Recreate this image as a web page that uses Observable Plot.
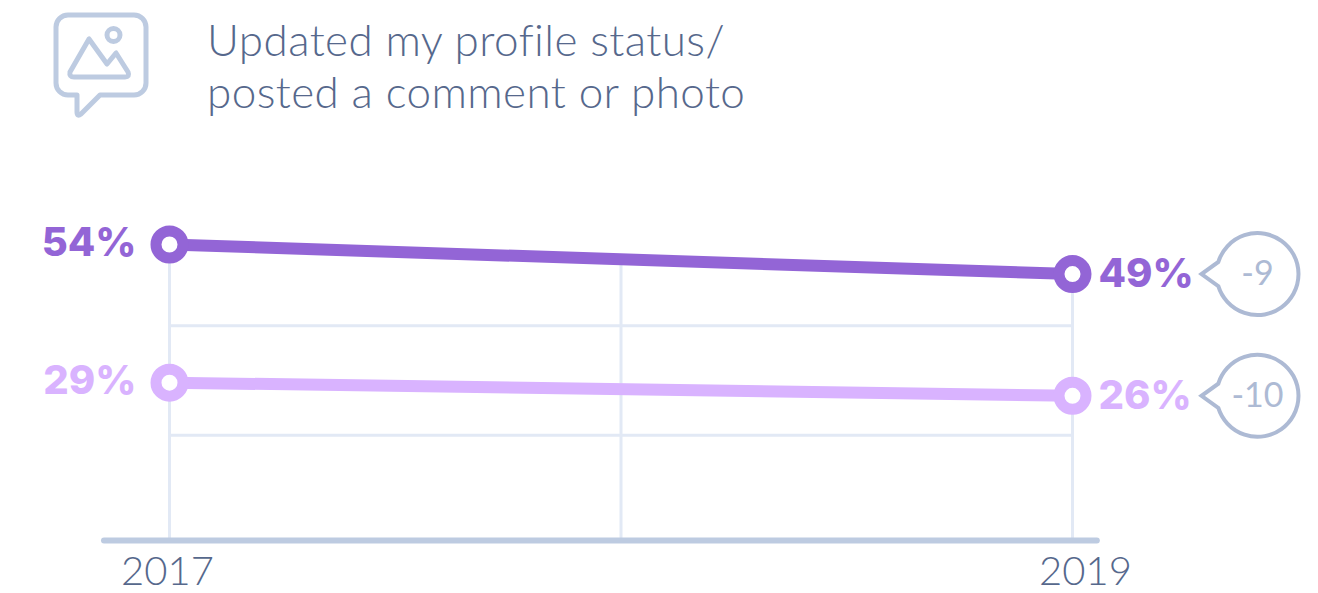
<!DOCTYPE html>
<html>
<head>
<meta charset="utf-8">
<style>
html,body{margin:0;padding:0;background:#fff;}
#wrap{position:relative;width:1318px;height:593px;overflow:hidden;}
#chart{position:absolute;left:0;top:0;}
#title{position:absolute;left:207px;top:13px;font-family:Lato,sans-serif;font-weight:300;font-size:44px;line-height:52px;color:#56688c;letter-spacing:0.42px;white-space:nowrap;}
#icon{position:absolute;left:0;top:0;}
</style>
</head>
<body>
<div id="wrap">
<div id="chart"></div>
<svg id="icon" width="170" height="130" fill="none" stroke="#bdcbe1" stroke-width="5" stroke-linejoin="round" stroke-linecap="round">
<path d="M68 15H134a12 12 0 0 1 12 12V83a12 12 0 0 1-12 12H100L81 114q-4 3-4-2V95H68a12 12 0 0 1-12-12V27a12 12 0 0 1 12-12Z"/>
<path d="M89 39L70 72q-1 5 4 5H125q5 0 3-5L116 53L107 64Z"/>
<circle cx="113.500" cy="35" r="6.500"/>
</svg>
<div id="title">Updated my profile status/<br>posted a comment or photo</div>
</div>
<script src="https://cdn.jsdelivr.net/npm/d3@7"></script>
<script src="https://cdn.jsdelivr.net/npm/@observablehq/plot@0.6"></script>
<script>
const years = [2017, 2019];
const seriesA = [54, 48.6];
const seriesB = [28.8, 26.4];
const changes = [-9, -10];
const gridValues = [19.2, 39.2];
const colorA = "#9365d6";
const colorB = "#d9b3ff";

const rows = (vals, color) => years.map((year, i) => ({year, value: vals[i], color}));
const a = rows(seriesA, colorA);
const b = rows(seriesB, colorB);
const ends = [{value: seriesA[1], change: changes[0]}, {value: seriesB[1], change: changes[1]}];
const pct = d => Math.round(d.value) + "%";

const bubble = {
  draw(ctx, size) {
    const r = Math.sqrt(size / Math.PI);
    const t = 0.30;
    ctx.moveTo(-r * Math.cos(t), -r * Math.sin(t));
    ctx.arc(0, 0, r, Math.PI + t, Math.PI - t + 2 * Math.PI);
    ctx.lineTo(-r - 15, 0);
    ctx.closePath();
  }
};

const labelFont = {fontFamily: "Inter", fontWeight: 800, fontSize: 40};
const yearFont = {fill: "#56688c", fontFamily: "Lato", fontWeight: 300, fontSize: 40};

const plot = Plot.plot({
  width: 1318,
  height: 593,
  margin: 0,
  style: {background: "transparent", overflow: "visible"},
  x: {domain: [2017, 2019], range: [169, 1072], axis: null},
  y: {domain: [0, 54], range: [540, 244], axis: null},
  marks: [
    Plot.ruleY(gridValues, {x1: years[0], x2: years[1], stroke: "#e2e9f5", strokeWidth: 3}),
    Plot.ruleX([2017, 2019], {y1: 0, y2: d => d === 2017 ? seriesA[0] : seriesA[1], stroke: "#e2e9f5", strokeWidth: 3}),
    Plot.ruleX([2018], {y1: 0, y2: 51, stroke: "#e2e9f5", strokeWidth: 3}),
    Plot.ruleY([0], {x1: 2016.856, x2: 2019.055, stroke: "#bdcbe1", strokeWidth: 6, strokeLinecap: "round"}),
    Plot.line(a, {x: "year", y: "value", stroke: colorA, strokeWidth: 12, curve: "linear"}),
    Plot.line(b, {x: "year", y: "value", stroke: colorB, strokeWidth: 12, curve: "linear"}),
    Plot.dot(a, {x: "year", y: "value", r: 13.5, stroke: colorA, strokeWidth: 11, fill: "#fff"}),
    Plot.dot(b, {x: "year", y: "value", r: 13.5, stroke: colorB, strokeWidth: 11, fill: "#fff"}),
    Plot.text([...a, ...b].filter(d => d.year === 2017), {x: "year", y: "value", text: pct, fill: "color", textAnchor: "end", dx: -33, dy: -1, ...labelFont}),
    Plot.text([...a, ...b].filter(d => d.year === 2019), {x: "year", y: "value", text: pct, fill: "color", textAnchor: "start", dx: 26, dy: 0, ...labelFont}),
    Plot.dot(ends, {x: () => 2019, y: "value", symbol: () => bubble, r: 41, dx: 185, stroke: "#adbad4", strokeWidth: 4, fill: "#fff"}),
    Plot.text(ends, {x: () => 2019, y: "value", text: d => String(d.change), dx: 185, fill: "#adbad4", fontFamily: "Lato", fontWeight: 400, fontSize: 34}),
    Plot.text(years.slice(0, 1), {x: d => d, y: () => 0, text: d => String(d), dx: -2, dy: 32, ...yearFont}),
    Plot.text(years.slice(1), {x: d => d, y: () => 0, text: d => String(d), dx: 13, dy: 32, ...yearFont})
  ]
});
document.getElementById("chart").appendChild(plot);
</script>
</body>
</html>
